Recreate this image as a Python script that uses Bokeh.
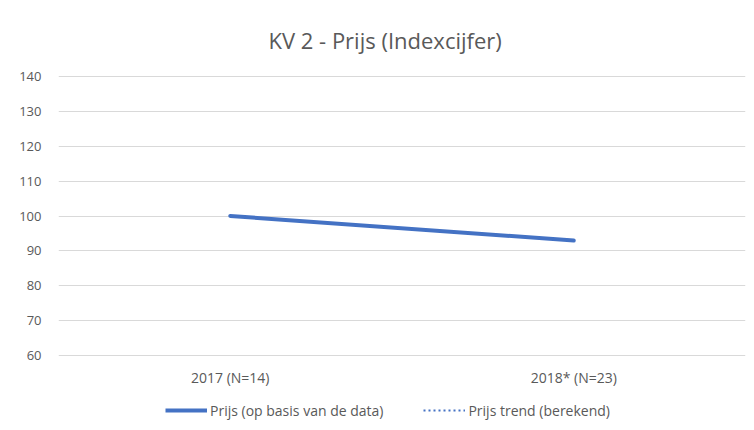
from bokeh.plotting import figure
from bokeh.layouts import column
from bokeh.models import Range1d, FactorRange, Legend, LegendItem, ColumnDataSource
from bokeh.embed import file_html
from bokeh.resources import INLINE

# Data
categories = ["2017 (N=14)", "2018* (N=23)"]
prijs = [100, 93]
trend_x = [float("nan")]   # trend series has no visible points
trend_y = [float("nan")]
y_ticks = [60, 70, 80, 90, 100, 110, 120, 130, 140]
title_text = "KV 2 - Prijs (Indexcijfer)"
label_prijs = "Prijs (op basis van de data)"
label_trend = "Prijs trend (berekend)"

FONT = "Open Sans"
GREY = "#595959"
BLUE = "#4472C4"

p = figure(
    width=754, height=394,
    x_range=FactorRange(*categories),
    y_range=Range1d(59.85, 140.15),
    output_backend="svg", toolbar_location=None,
    min_border_left=58, min_border_right=9,
    min_border_top=75, min_border_bottom=38,
    title=title_text,
)

p.title.align = "left"
p.title.offset = 210
p.title.text_font = FONT
p.title.text_font_size = "22px"
p.title.text_font_style = "normal"
p.title.text_color = GREY
p.title.standoff = 42

p.outline_line_color = None
p.xgrid.grid_line_color = None
p.ygrid.grid_line_color = "#d9d9d9"
p.ygrid.grid_line_width = 1
p.yaxis.ticker = y_ticks

for ax in (p.xaxis[0], p.yaxis[0]):
    ax.axis_line_color = None
    ax.major_tick_line_color = None
    ax.minor_tick_line_color = None
    ax.major_label_text_font = FONT
    ax.major_label_text_color = GREY
p.yaxis.major_label_text_font_size = "13px"
p.xaxis.major_label_text_font_size = "14px"
p.yaxis.major_label_standoff = 11
p.xaxis.major_label_standoff = 5

src = ColumnDataSource(dict(x=categories, y=prijs))
p.line("x", "y", source=src, line_color=BLUE, line_width=4, line_cap="round")

# legend strip below the chart
lg = figure(
    width=754, height=36,
    x_range=Range1d(0, 1), y_range=Range1d(0, 1),
    output_backend="svg", toolbar_location=None,
    min_border=0,
)
lg.axis.visible = False
lg.grid.visible = False
lg.outline_line_color = None
tsrc = ColumnDataSource(dict(x=trend_x, y=trend_y))
l1 = lg.line("x", "y", source=tsrc, line_color=BLUE, line_width=4)
l2 = lg.line("x", "y", source=tsrc, line_color=BLUE, line_width=2, line_dash="2 3")

legend = Legend(
    items=[LegendItem(label=label_prijs, renderers=[l1]),
           LegendItem(label=label_trend, renderers=[l2])],
    orientation="horizontal", location=(107, 10),
    border_line_color=None, background_fill_alpha=0,
    label_text_font=FONT, label_text_font_size="14px", label_text_color=GREY,
    glyph_width=42, spacing=40, padding=0, margin=0, label_standoff=3,
)
lg.add_layout(legend)

layout = column(p, lg, spacing=0)
open("out.html", "w").write(file_html(layout, INLINE))
